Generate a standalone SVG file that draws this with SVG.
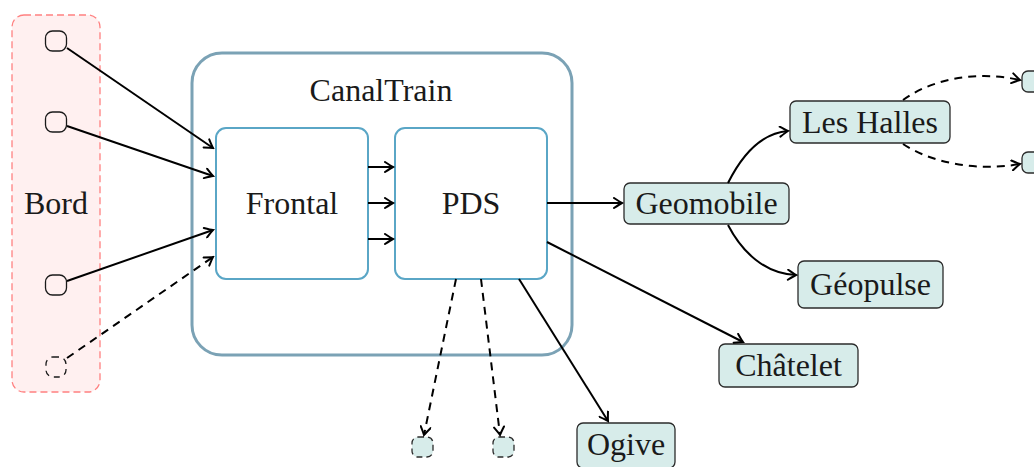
<svg xmlns="http://www.w3.org/2000/svg" width="1034" height="467" viewBox="0 0 1034 467">
<style>
text{font-family:'Liberation Serif','DejaVu Serif',serif;font-size:32px;fill:#1a1a1a;text-anchor:middle}
.leaf{fill:#d7ecea;stroke:#2b2b2b;stroke-width:1.3}
.dot{fill:none;stroke:#1a1a1a;stroke-width:1.3}
.edge{fill:none;stroke:#000;stroke-width:2;marker-end:url(#arr)}
.dash{stroke-dasharray:8 6}
.inner{fill:#fff;stroke:#5aa6c6;stroke-width:2}
</style>
<defs>
<marker id="arr" viewBox="-10 -6 12 12" refX="0" refY="0" markerWidth="12" markerHeight="12" markerUnits="userSpaceOnUse" orient="auto">
<path d="M-8,-5 Q-2,-1 0,0 Q-2,1 -8,5" fill="none" stroke="#000" stroke-width="2" stroke-linecap="round"/>
</marker>
</defs>
<g id="bord">
<rect x="12" y="15" width="88" height="377" rx="12" fill="#fff0f0" stroke="#ff8080" stroke-width="1.3" stroke-dasharray="7 4"/>
<text x="56" y="214">Bord</text>
</g>
<g id="b1"><rect class="dot" x="45.5" y="31" width="21" height="20" rx="7"/></g>
<g id="b2"><rect class="dot" x="45.5" y="112" width="21" height="20" rx="7"/></g>
<g id="b3"><rect class="dot" x="45.5" y="275" width="21" height="20" rx="7"/></g>
<g id="b4"><rect class="dot" x="46" y="357" width="20" height="20" rx="7" style="stroke-dasharray:6 5"/></g>
<g id="canaltrain">
<rect x="192" y="53" width="380" height="302" rx="30" fill="none" stroke="#7ba2b5" stroke-width="3"/>
<text x="381" y="101">CanalTrain</text>
</g>
<g id="frontal">
<rect class="inner" x="216" y="128" width="152" height="151" rx="10"/>
<text x="292" y="214">Frontal</text>
</g>
<g id="pds">
<rect class="inner" x="395" y="128" width="152" height="151" rx="10"/>
<text x="471" y="214">PDS</text>
</g>
<g id="geomobile">
<rect class="leaf" x="624" y="183" width="165" height="41" rx="6"/>
<text x="706.5" y="214">Geomobile</text>
</g>
<g id="leshalles">
<rect class="leaf" x="790" y="101" width="160" height="42" rx="6"/>
<text x="870" y="133">Les Halles</text>
</g>
<g id="geopulse">
<rect class="leaf" x="798" y="261" width="145" height="47" rx="6"/>
<text x="870.5" y="295">Géopulse</text>
</g>
<g id="chatelet">
<rect class="leaf" x="719" y="344" width="139" height="43" rx="6"/>
<text x="788.5" y="376">Châtelet</text>
</g>
<g id="ogive">
<rect class="leaf" x="577" y="423" width="98" height="45" rx="6"/>
<text x="626" y="455">Ogive</text>
</g>
<g id="r1"><rect class="leaf" x="1022" y="71" width="22" height="21" rx="6"/></g>
<g id="r2"><rect class="leaf" x="1022" y="152" width="22" height="21" rx="6"/></g>
<g id="d1"><rect class="leaf" x="412" y="437" width="21" height="20" rx="6" style="stroke-dasharray:6 4"/></g>
<g id="d2"><rect class="leaf" x="493" y="437" width="21" height="20" rx="6" style="stroke-dasharray:6 4"/></g>
<g id="connectors">
<path class="edge" d="M67,48 L213,148"/>
<path class="edge" d="M67,126 L213,176"/>
<path class="edge" d="M67,281 L213,230"/>
<path class="edge dash" d="M67,358 L213,257"/>
<path class="edge" d="M368,167 L393,167"/>
<path class="edge" d="M368,203 L393,203"/>
<path class="edge" d="M368,239 L393,239"/>
<path class="edge" d="M547,203 L622,203"/>
<path class="edge" d="M547,242 L743,342"/>
<path class="edge" d="M519,279 L608,421"/>
<path class="edge dash" d="M456,279 L424,435"/>
<path class="edge dash" d="M481,279 L500,435"/>
<path class="edge" d="M728,183 C742,155 762,133 788,131"/>
<path class="edge" d="M728,225 C742,252 765,274 796,275"/>
<path class="edge dash" d="M903,100 C930,80 975,70 1020,80"/>
<path class="edge dash" d="M903,144 C930,162 975,172 1020,164"/>
</g>
</svg>
